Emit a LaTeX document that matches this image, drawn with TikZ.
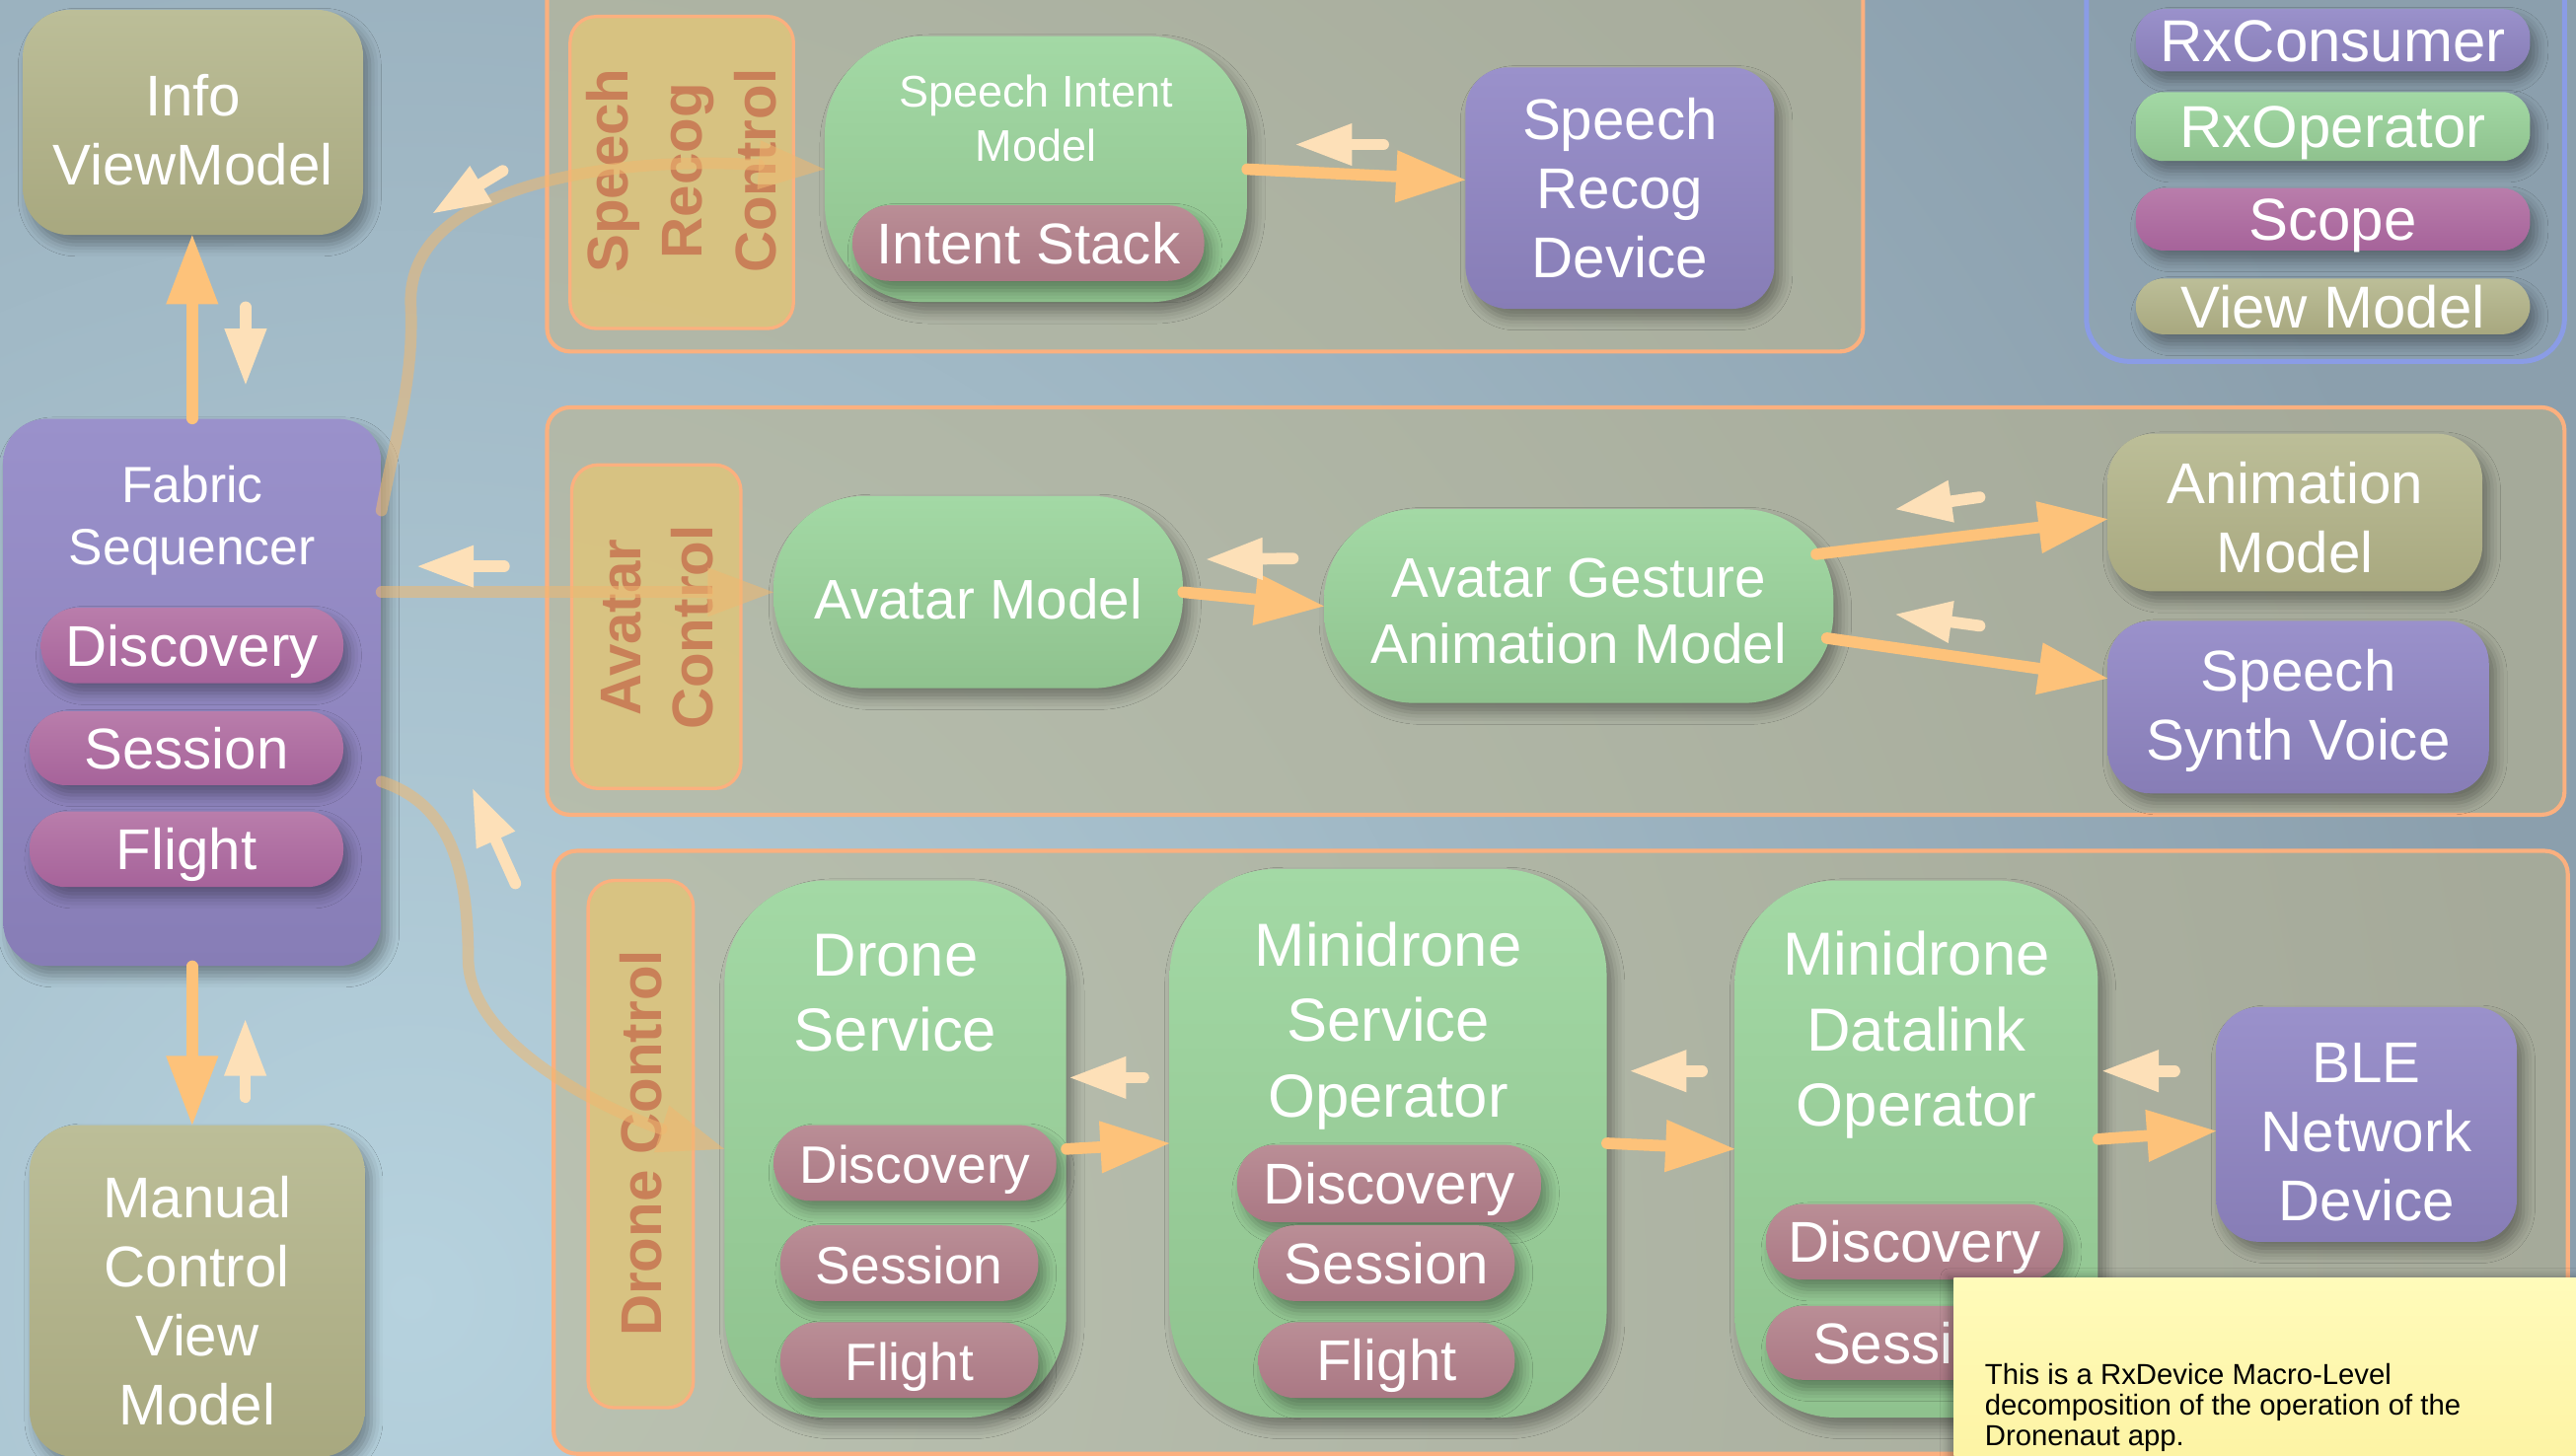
\documentclass[tikz,border=0pt]{standalone}
\usepackage{fontspec}
\setmainfont{Liberation Sans}
\usetikzlibrary{arrows.meta,calc,shadows.blur}

% palette
\definecolor{bgBase}{HTML}{8B9FAD}
\definecolor{bgLight}{HTML}{B6D2DE}
\definecolor{panelFill}{HTML}{C0B588}
\definecolor{panelLine}{HTML}{FBB07F}
\definecolor{tagFill}{HTML}{DCC47E}
\definecolor{tagInk}{HTML}{C98058}
\definecolor{operatorBase}{HTML}{8FC28E}
\definecolor{operatorTop}{HTML}{A3D9A5}
\definecolor{consumerBase}{HTML}{877DB6}
\definecolor{consumerTop}{HTML}{9A91CB}
\definecolor{viewBase}{HTML}{A8A87F}
\definecolor{viewTop}{HTML}{BCBE98}
\definecolor{scopeBase}{HTML}{A6639A}
\definecolor{scopeTop}{HTML}{B97DAB}
\definecolor{scopeInBase}{HTML}{AA7884}
\definecolor{scopeInTop}{HTML}{BA8E96}
\definecolor{flowMain}{HTML}{FDC27A}
\definecolor{flowBack}{HTML}{FDE0B8}
\definecolor{flowFabric}{HTML}{F0B870}
\definecolor{legendLine}{HTML}{8A9CE6}
\definecolor{noteTop}{HTML}{FFFBBA}
\definecolor{noteBottom}{HTML}{FDF3A2}

\tikzset{
  softshadow/.style={blur shadow={shadow xshift=4pt, shadow yshift=-6pt,
      shadow blur radius=7pt, shadow opacity=35}},
  rxblock/.style={rectangle, inner sep=0pt, text=white, align=center, softshadow},
  consumer/.style={rxblock, top color=consumerTop, bottom color=consumerBase, rounded corners=26pt},
  operator/.style={rxblock, top color=operatorTop, bottom color=operatorBase, rounded corners=60pt},
  viewmodel/.style={rxblock, top color=viewTop, bottom color=viewBase, rounded corners=28pt},
  pilltext/.style={text height=25pt, text depth=0pt},
  scopepill/.style={rxblock, pilltext, top color=scopeTop, bottom color=scopeBase, rounded corners=22pt},
  scopeinner/.style={rxblock, pilltext, top color=scopeInTop, bottom color=scopeInBase, rounded corners=22pt},
  legendpill/.style={rxblock, minimum width=240pt, rounded corners=17pt,
      text height=26pt, text depth=0pt, font=\fontsize{36}{40}\selectfont},
  nodetitle/.style={text=white, align=center, inner sep=0pt},
  panel/.style={rectangle, draw=panelLine, line width=2.5pt, fill=panelFill,
      fill opacity=.5, rounded corners=14pt},
  tagbox/.style={rectangle, draw=panelLine, line width=2pt, fill=tagFill,
      fill opacity=.9, rounded corners=16pt},
  tagtext/.style={rotate=90, text=tagInk, align=center, inner sep=0pt,
      font=\bfseries\fontsize{35}{45}\selectfont},
  fbig/.style={font=\fontsize{35}{42}\selectfont},
  fdrone/.style={font=\fontsize{37}{46}\selectfont},
  mainflow/.style={draw=flowMain, line width=7pt, line cap=round,
      -{Triangle[length=42pt, width=32pt, line width=0pt]}},
  retflow/.style={draw=flowBack, line width=7pt, line cap=round,
      -{Triangle[length=34pt, width=26pt, line width=0pt]}},
  fabricflow/.style={draw=flowFabric, line width=7pt, line cap=round, opacity=.55,
      -{Triangle[length=40pt, width=30pt, line width=0pt]}},
}

\begin{document}
\begin{tikzpicture}[x=1pt, y=-1pt]
\useasboundingbox (0,0) rectangle (1568,886.3);

% backdrop
\fill[bgBase] (0,0) rectangle (1568,886.3);
\begin{scope}
  \clip (0,0) rectangle (1568,886.3);
  \shade[inner color=bgLight, outer color=bgBase] (250,790) circle (1300);
\end{scope}

% ---------- group panels ----------
\node[panel, minimum width=801pt, minimum height=254pt] (speechPanel) at (733.5,87) {};
\node[panel, minimum width=1228pt, minimum height=248pt] (avatarPanel) at (947,372) {};
\node[panel, minimum width=1226pt, minimum height=367pt] (dronePanel) at (950,701.5) {};

\node[tagbox, minimum width=136pt, minimum height=190pt] (speechTag) at (415,105) {};
\node[tagtext] (speechTagT) at (415,104) {Speech\\Recog\\Control};
\node[tagbox, minimum width=103pt, minimum height=197pt] (avatarTag) at (399.5,381.5) {};
\node[tagtext, font=\bfseries\fontsize{35}{44}\selectfont] (avatarTagT) at (400,382) {Avatar\\Control};
\node[tagbox, minimum width=64pt, minimum height=321pt] (droneTag) at (390,696.5) {};
\node[tagtext] (droneTagT) at (390,696) {Drone Control};

% ---------- legend ----------
\node[rectangle, draw=legendLine, line width=3pt, rounded corners=26pt,
      minimum width=291pt, minimum height=260pt] (legend) at (1415.5,90) {};
\node[legendpill, top color=consumerTop, bottom color=consumerBase, minimum height=38pt]
  (lgConsumer) at (1420,24.5) {RxConsumer};
\node[legendpill, top color=operatorTop, bottom color=operatorBase, minimum height=42pt]
  (lgOperator) at (1420,77) {RxOperator};
\node[legendpill, top color=scopeTop, bottom color=scopeBase, minimum height=38pt]
  (lgScope) at (1420,133.5) {Scope};
\node[legendpill, top color=viewTop, bottom color=viewBase, minimum height=34pt]
  (lgView) at (1420,186.5) {View Model};

% ---------- left column ----------
\node[viewmodel, minimum width=207pt, minimum height=137pt] (info) at (117.5,74.5) {};
\node[nodetitle, fbig] (infoT) at (117.5,79) {Info\\ViewModel};
\node[consumer, minimum width=230pt, minimum height=333pt] (fabric) at (117,421.5) {};
\node[nodetitle, font=\fontsize{31}{38}\selectfont] (fabricT) at (117,317) {Fabric\\Sequencer};
\node[scopepill, fbig, minimum width=184pt, minimum height=46pt] (fDisc) at (117,393) {Discovery};
\node[scopepill, fbig, minimum width=191pt, minimum height=45pt] (fSess) at (113.5,455.5) {Session};
\node[scopepill, fbig, minimum width=191pt, minimum height=46pt] (fFlight) at (113.5,517) {Flight};
\node[viewmodel, minimum width=204pt, minimum height=202pt] (manual) at (120,786) {};
\node[nodetitle, fbig] (manualT) at (120,792) {Manual\\Control\\View\\Model};

% ---------- speech row ----------
\node[operator, minimum width=257pt, minimum height=162pt] (sim) at (630.5,103) {};
\node[nodetitle, font=\fontsize{27}{33}\selectfont] (simT) at (630.5,72) {Speech Intent\\Model};
\node[scopeinner, fbig, minimum width=214pt, minimum height=46pt] (intentStack) at (626,148) {Intent Stack};
\node[consumer, fbig, minimum width=188pt, minimum height=147pt] (srd) at (986,114.5) {Speech\\Recog\\Device};

% ---------- avatar row ----------
\node[operator, rounded corners=55pt, minimum width=249pt, minimum height=117pt] (am) at (595.5,360.5) {};
\node[nodetitle, font=\fontsize{34}{40}\selectfont] (amT) at (595.5,364.5) {Avatar Model};
\node[operator, rounded corners=55pt, minimum width=310pt, minimum height=118pt] (ag) at (961,369) {};
\node[nodetitle, font=\fontsize{34}{40}\selectfont] (agT) at (961,372) {Avatar Gesture\\Animation Model};
\node[viewmodel, minimum width=228pt, minimum height=96pt] (anim) at (1397,312) {};
\node[nodetitle, fbig] (animT) at (1397,315) {Animation\\Model};
\node[consumer, minimum width=232pt, minimum height=105pt] (ssv) at (1399,430.5) {};
\node[nodetitle, fbig] (ssvT) at (1399,432.5) {Speech\\Synth Voice};

% ---------- drone row ----------
\node[operator, rounded corners=62pt, minimum width=208pt, minimum height=327pt] (ds) at (545,699.5) {};
\node[nodetitle, fdrone] (dsT) at (545,604.5) {Drone\\Service};
\node[scopeinner, font=\fontsize{32}{36}\selectfont, minimum width=172pt, minimum height=46pt] (dsDisc) at (557,708) {Discovery};
\node[scopeinner, font=\fontsize{32}{36}\selectfont, minimum width=157pt, minimum height=46pt] (dsSess) at (553.5,769) {Session};
\node[scopeinner, font=\fontsize{32}{36}\selectfont, minimum width=157pt, minimum height=46pt] (dsFlight) at (553.5,828) {Flight};

\node[operator, rounded corners=65pt, minimum width=266pt, minimum height=334pt] (mso) at (845,696) {};
\node[nodetitle, fdrone] (msoT) at (845,624.5) {Minidrone\\Service\\Operator};
\node[scopeinner, fbig, minimum width=185pt, minimum height=47pt] (msoDisc) at (845.5,720.5) {Discovery};
\node[scopeinner, fbig, minimum width=156pt, minimum height=46pt] (msoSess) at (844,769) {Session};
\node[scopeinner, fbig, minimum width=156pt, minimum height=46pt] (msoFlight) at (844,828) {Flight};

\node[operator, rounded corners=62pt, minimum width=221pt, minimum height=327pt] (dl) at (1166.5,699.5) {};
\node[nodetitle, fdrone] (dlT) at (1166.5,630) {Minidrone\\Datalink\\Operator};
\node[scopeinner, fbig, minimum width=181pt, minimum height=46pt] (dlDisc) at (1165.5,756) {Discovery};
\node[scopeinner, fbig, minimum width=181pt, minimum height=45pt] (dlSess) at (1165.5,817.5) {Session};

\node[consumer, minimum width=183pt, minimum height=143pt] (ble) at (1440.5,684.5) {};
\node[nodetitle, fbig] (bleT) at (1440.5,689.5) {BLE\\Network\\Device};

% ---------- flows ----------
% Fabric Sequencer and the two view models
\draw[mainflow] (fabric.north) -- (fabric.north |- info.south);
\coordinate (r1a) at (149.5,187); \coordinate (r1b) at (149.5,234);
\draw[retflow] (r1a) -- (r1b);
\draw[mainflow] (fabric.south) -- (fabric.south |- manual.north);
\coordinate (r2a) at (149.3,668); \coordinate (r2b) at (149.3,621);
\draw[retflow] (r2a) -- (r2b);

% speech row
\draw[mainflow] (sim.east) -- ($(srd.west)+(0,-5)$);
\coordinate (r3a) at (842,88); \coordinate (r3b) at (789,88);
\draw[retflow] (r3a) -- (r3b);

% avatar row
\draw[mainflow] (am.east) -- (ag.west);
\coordinate (r4a) at (787,340); \coordinate (r4b) at (734.5,340.5);
\draw[retflow] (r4a) -- (r4b);
\draw[mainflow] ($(ag.center)+(144.6,-31.6)$) -- ($(anim.west)+(0,4)$);
\coordinate (r5a) at (1205,302.7); \coordinate (r5b) at (1154,310);
\draw[retflow] (r5a) -- (r5b);
\draw[mainflow] ($(ag.center)+(151,19.5)$) -- ($(ssv.west)+(0,-17.5)$);
\coordinate (r6a) at (1205,381); \coordinate (r6b) at (1154,374);
\draw[retflow] (r6a) -- (r6b);

% drone row
\draw[mainflow] (ds.east) -- (mso.west);
\coordinate (r7a) at (696,656); \coordinate (r7b) at (651.5,656);
\draw[retflow] (r7a) -- (r7b);
\draw[mainflow] (mso.east) -- (dl.west);
\coordinate (r8a) at (1036,652); \coordinate (r8b) at (992.6,652);
\draw[retflow] (r8a) -- (r8b);
\draw[mainflow] ($(dl.east)+(0,-6)$) -- ($(ble.west)+(0,4)$);
\coordinate (r9a) at (1323.6,652); \coordinate (r9b) at (1280,652);
\draw[retflow] (r9a) -- (r9b);

% Fabric Sequencer fan-out to the control groups
\coordinate (fabOutTop) at ($(fabric.north east)+(0,56)$);
\coordinate (fabOutBottom) at ($(fabric.north east)+(0,221)$);
\draw[fabricflow] (fabOutTop) .. controls (242,260) and (252,230) .. (250,185)
                  .. controls (248,110) and (380,95) .. (sim.west);
\draw[fabricflow] (fabric.east |- am.west) -- (am.west);
\draw[fabricflow] (fabOutBottom) .. controls (275,490) and (285,530) .. (285,585)
                  .. controls (287,640) and (380,680) .. (ds.west);
\coordinate (r10a) at (306,104); \coordinate (r10b) at (263.7,129.7);
\draw[retflow] (r10a) -- (r10b);
\coordinate (r11a) at (306.8,344.8); \coordinate (r11b) at (254.4,344.8);
\draw[retflow] (r11a) -- (r11b);
\coordinate (r12a) at (313.7,537.8); \coordinate (r12b) at (287.8,480.4);
\draw[retflow] (r12a) -- (r12b);

% ---------- sticky note ----------
\node[rectangle, anchor=north west, inner sep=0pt, minimum width=390pt, minimum height=120pt,
      top color=noteTop, bottom color=noteBottom,
      blur shadow={shadow xshift=-3pt, shadow yshift=1pt, shadow blur radius=5pt, shadow opacity=30}]
  (note) at (1189,778) {};
\node[anchor=north west, inner sep=0pt, align=left, text=black,
      font=\fontsize{17.6}{18.8}\selectfont] (noteT) at (1208,829.7)
  {This is a RxDevice Macro-Level\\decomposition of the operation of the\\Dronenaut app.};
\end{tikzpicture}
\end{document}
